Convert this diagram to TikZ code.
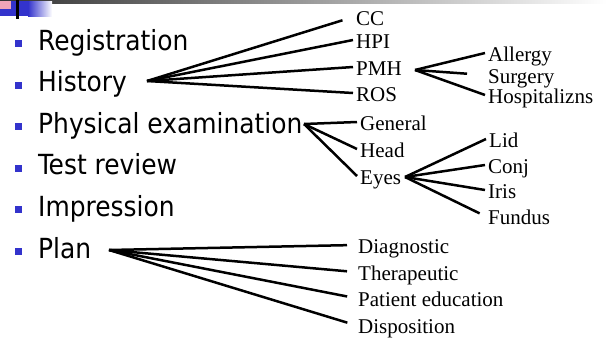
\documentclass[tikz,border=0pt]{standalone}
\usepackage{fontspec}
\usepackage{tikz}
\usetikzlibrary{positioning}
\setmainfont{Liberation Serif}
\newfontfamily\itemfont{DejaVu Sans Condensed}
\definecolor{bulletblue}{RGB}{51,51,204}
\definecolor{logopink}{RGB}{240,165,185}
\tikzstyle{item} = [anchor=base west, inner sep=0pt, font=\itemfont\fontsize{27.7}{30}\selectfont]
\tikzstyle{sub} = [anchor=base west, inner xsep=3pt, inner ysep=0pt, text height=16pt, text depth=0pt, font=\fontsize{21}{24}\selectfont]
\tikzstyle{bullet} = [fill=bulletblue]
\tikzstyle{branch} = [line width=2.5pt]

\begin{document}
\begin{tikzpicture}[x=1pt, y=-1pt]

  \useasboundingbox (0,0) rectangle (607,338);

  % title bar
  \shade[left color=black!80, right color=white] (0,0) rectangle (607,3);
  \fill[bulletblue] (0,1) rectangle (16,16);
  \fill[logopink] (0,1) rectangle (11,9);
  \fill[black] (16,0) rectangle (19,19);
  \fill[bulletblue] (19,1) rectangle (28,16);
  \shade[left color=bulletblue, right color=white] (28,1) rectangle (52,16);

  % main list
  \foreach \y/\n/\t in {50/reg/Registration, 91.6/hist/History, 133.2/phys/Physical examination,
                        174.8/test/Test review, 216.4/impr/Impression, 258/plan/Plan} {
    \fill[bullet] (15,\y-10) rectangle (22,\y-3);
    \node[item] (\n) at (38,\y) {\t};
  }

  % History
  \node[sub] (cc)  at (353,25)  {CC};
  \node[sub] (hpi) at (353,48)  {HPI};
  \node[sub] (pmh) at (353,75)  {PMH};
  \node[sub] (ros) at (353,101) {ROS};
  \coordinate (hist-hub) at (147,81);
  \draw[branch, shorten >=11pt] (hist-hub) -- (cc.west);
  \foreach \t in {hpi,pmh,ros}
    \draw[branch] (hist-hub) -- (\t.west);

  \node[sub] (allergy) at (485,61)  {Allergy};
  \node[sub] (surgery) at (485,83)  {Surgery};
  \node[sub] (hosp)    at (485,103) {Hospitalizns};
  \coordinate (pmh-hub) at (415,70);
  \draw[branch] (pmh-hub) -- (allergy.west);
  \draw[branch, shorten >=18pt] (pmh-hub) -- (surgery.west);
  \draw[branch] (pmh-hub) -- (hosp.west);

  % Physical examination
  \node[sub] (general) at (357,130) {General};
  \node[sub] (head)    at (357,157) {Head};
  \node[sub] (eyes)    at (357,184) {Eyes};
  \coordinate (phys-hub) at (304,124);
  \foreach \t in {general,head,eyes}
    \draw[branch] (phys-hub) -- (\t.west);

  \node[sub] (lid)    at (486,147) {Lid};
  \node[sub] (conj)   at (485,173) {Conj};
  \node[sub] (iris)   at (485,198) {Iris};
  \node[sub] (fundus) at (485,224) {Fundus};
  \coordinate (eyes-hub) at (405,177);
  \foreach \t in {lid,conj,iris}
    \draw[branch] (eyes-hub) -- (\t.west);
  \draw[branch, shorten >=6pt] (eyes-hub) -- (fundus.west);

  % Plan
  \node[sub] (diag)  at (355,253) {Diagnostic};
  \node[sub] (ther)  at (355,280) {Therapeutic};
  \node[sub] (educ)  at (355,306) {Patient education};
  \node[sub] (disp)  at (355,333) {Disposition};
  \coordinate (plan-hub) at (109,250);
  \foreach \t in {diag,ther,educ,disp}
    \draw[branch, shorten >=8pt] (plan-hub) -- (\t.west);

\end{tikzpicture}
\end{document}
